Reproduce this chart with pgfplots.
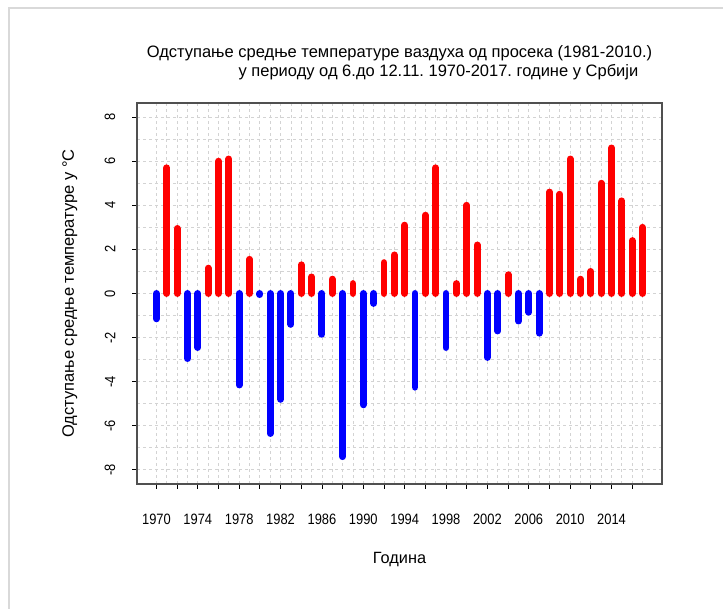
\documentclass[border=0pt]{standalone}
\usepackage{fontspec}
\setmainfont{Liberation Sans}[FakeStretch=0.86]
\newfontfamily\labfont{Liberation Sans}
\usepackage{pgfplots}
\pgfplotsset{compat=1.18}
\definecolor{gridgray}{HTML}{D3D3D3}
\definecolor{framegray}{HTML}{D9D9D9}
\definecolor{boxgray}{HTML}{505050}
\frenchspacing
\begin{document}
\begin{tikzpicture}[x=1pt,y=1pt]
\path[use as bounding box] (0,0) rectangle (723,609);
\draw[framegray, line width=2pt] (9,0) -- (9,601) -- (723,601);
\begin{axis}[
  at={(137pt,125pt)}, anchor=south west,
  scale only axis, width=525pt, height=381pt,
  xmin=1968.12, xmax=2018.88, ymin=-8.64, ymax=8.64,
  xtick={1970,1972,...,2016},
  xticklabels={1970,,1974,,1978,,1982,,1986,,1990,,1994,,1998,,2002,,2006,,2010,,2014,},
  minor xtick={1971,1973,...,2017},
  ytick={-8,-6,...,8},
  yticklabels={-8,-6,-4,-2,0,2,4,6,8},
  minor ytick={-7,-5,...,7},
  grid=both,
  major grid style={gridgray, dash pattern=on 3pt off 3pt, line width=0.8pt},
  minor grid style={gridgray, dash pattern=on 3pt off 3pt, line width=0.8pt},
  tick pos=left,
  tick align=outside, major tick length=5pt, minor tick length=0pt,
  tick style={black, line width=0.8pt},
  axis line style={boxgray, line width=1.1pt},
  xticklabel style={font=\fontsize{15}{18}\selectfont, anchor=north, inner sep=0pt, yshift=-25pt},
  yticklabel style={font=\fontsize{15}{18}\selectfont, rotate=90, anchor=south, inner sep=0pt, yshift=16.5pt},
  xlabel={Година},
  ylabel={Одступање средње температуре у °C},
  xlabel style={font=\labfont\fontsize{16.3}{19}\selectfont, at={(axis description cs:0.5,0)}, anchor=base, inner sep=0pt, yshift=-79.7pt},
  ylabel style={font=\labfont\fontsize{16.5}{19}\selectfont, at={(axis description cs:0,0.5)}, anchor=base, inner sep=0pt, yshift=63pt},
  clip=false,
]
\addplot[ycomb, red, line width=6.9pt, line cap=round, mark=none] coordinates {
(1971,5.7) (1972,2.95) (1975,1.15) (1976,6.0) (1977,6.1) (1979,1.55)
(1984,1.3) (1985,0.75) (1987,0.65) (1989,0.45) (1992,1.4) (1993,1.75)
(1994,3.1) (1996,3.55) (1997,5.7) (1999,0.45) (2000,4.0) (2001,2.2)
(2004,0.85) (2008,4.6) (2009,4.5) (2010,6.1) (2011,0.65) (2012,1.0)
(2013,5.0) (2014,6.6) (2015,4.2) (2016,2.4) (2017,3.0)
};
\addplot[ycomb, blue, line width=6.9pt, line cap=round, mark=none] coordinates {
(1970,-1.15) (1973,-2.95) (1974,-2.45) (1978,-4.15) (1980,-0.05) (1981,-6.35)
(1982,-4.8) (1983,-1.4) (1986,-1.85) (1988,-7.4) (1990,-5.05) (1991,-0.45)
(1995,-4.25) (1998,-2.45) (2002,-2.9) (2003,-1.7) (2005,-1.25) (2006,-0.85)
(2007,-1.8)
};
\end{axis}
\node[anchor=base, inner sep=0pt, font=\labfont\fontsize{16.5}{19}\selectfont] at (399.5,551) {Одступање средње температуре ваздуха од просека (1981-2010.)};
\node[anchor=base, inner sep=0pt, font=\labfont\fontsize{16.5}{19}\selectfont] at (438.5,532) {у периоду од 6.до 12.11. 1970-2017. године у Србији};
\end{tikzpicture}
\end{document}
